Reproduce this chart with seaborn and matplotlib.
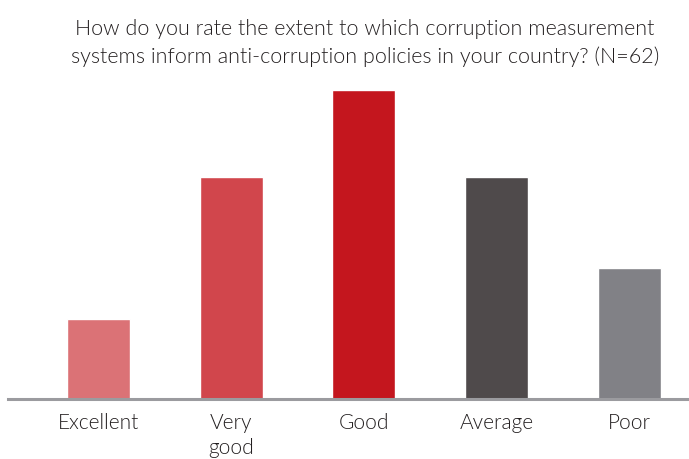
import matplotlib.pyplot as plt
import seaborn as sns
import pandas as pd

# ratings and share of respondents (%)
categories = ['Excellent', 'Very\ngood', 'Good', 'Average', 'Poor']
values = [8.3, 23.0, 32.0, 23.0, 13.6]
colors = ['#DB7276', '#D1464C', '#C4161E', '#4F4A4B', '#818186']

title = ('How do you rate the extent to which corruption measurement\n'
         'systems inform anti-corruption policies in your country? (N=62)')

sns.set_style('white')
plt.rcParams['font.family'] = ['Lato', 'DejaVu Sans']
plt.rcParams['font.weight'] = 300

df = pd.DataFrame({'rating': categories, 'value': values})

fig = plt.figure(figsize=(6.89, 4.59), dpi=100)
ax = fig.add_axes([8 / 689, 0.1303, 681 / 689, 0.693])

sns.barplot(data=df, x='rating', y='value', hue='rating', palette=colors,
            legend=False, width=0.475, saturation=1, ax=ax, zorder=1)

ax.set_xlim(-0.682, 4.45)
ax.set_ylim(0, 32.93)
ax.set_xlabel('')
ax.set_ylabel('')
ax.set_yticks([])
for s in ['top', 'left', 'right']:
    ax.spines[s].set_visible(False)
ax.spines['bottom'].set_color('#9B9B9F')
ax.spines['bottom'].set_linewidth(2.2)
ax.spines['bottom'].set_zorder(3)
ax.tick_params(axis='x', length=0, pad=10, labelsize=15, labelcolor='#231F20')
for lbl in ax.get_xticklabels():
    lbl.set_linespacing(1.3)

fig.text(0.53, 0.958, title, ha='center', va='top', fontsize=15.5,
         color='#231F20', linespacing=1.45)

fig.savefig('out.png', dpi=100)
